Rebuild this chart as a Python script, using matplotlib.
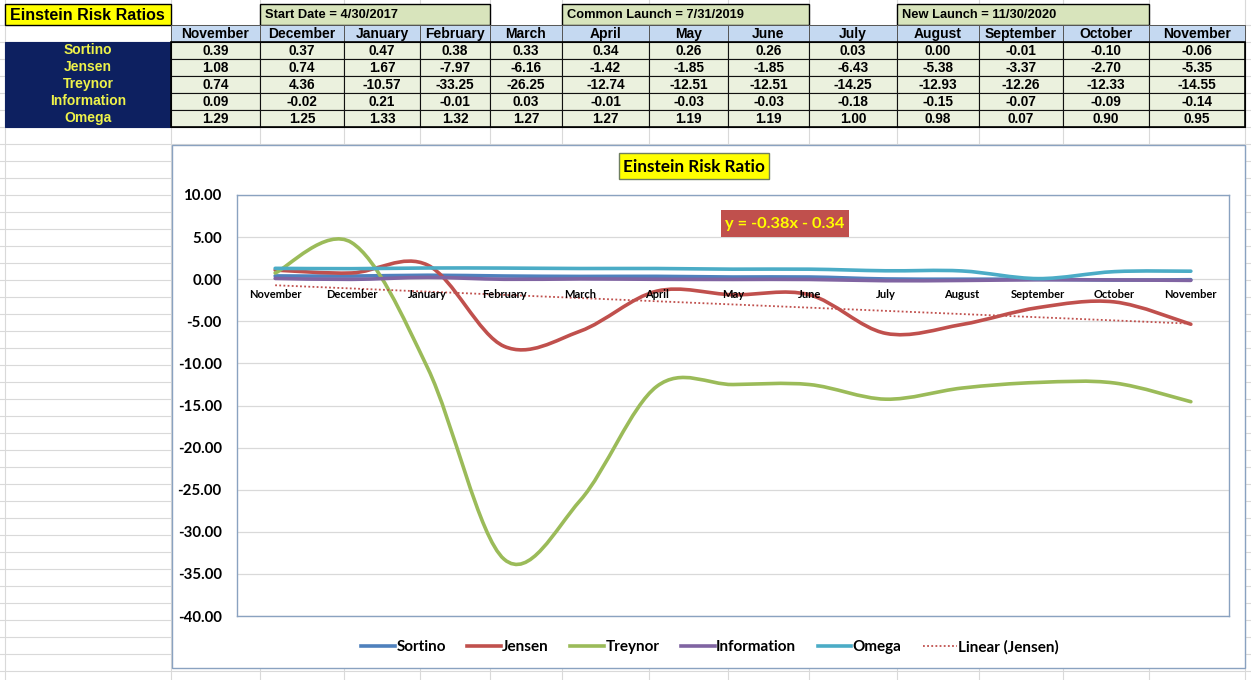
import numpy as np
import matplotlib
matplotlib.use("Agg")
import matplotlib.pyplot as plt
from matplotlib.patches import Rectangle, PathPatch
from matplotlib.path import Path
from matplotlib.lines import Line2D
import matplotlib.transforms as mtransforms

# ---------------- data ----------------
months = ['November', 'December', 'January', 'February', 'March', 'April', 'May',
          'June', 'July', 'August', 'September', 'October', 'November']
sortino = [0.39, 0.37, 0.47, 0.38, 0.33, 0.34, 0.26, 0.26, 0.03, 0.00, -0.01, -0.10, -0.06]
jensen = [1.08, 0.74, 1.67, -7.97, -6.16, -1.42, -1.85, -1.85, -6.43, -5.38, -3.37, -2.70, -5.35]
treynor = [0.74, 4.36, -10.57, -33.25, -26.25, -12.74, -12.51, -12.51, -14.25, -12.93, -12.26, -12.33, -14.55]
information = [0.09, -0.02, 0.21, -0.01, 0.03, -0.01, -0.03, -0.03, -0.18, -0.15, -0.07, -0.09, -0.14]
omega = [1.29, 1.25, 1.33, 1.32, 1.27, 1.27, 1.19, 1.19, 1.00, 0.98, 0.07, 0.90, 0.95]

series_names = ['Sortino', 'Jensen', 'Treynor', 'Information', 'Omega']
series_values = [sortino, jensen, treynor, information, omega]
series_colors = ['#4f81bd', '#c0504d', '#9bbb59', '#8064a2', '#4bacc6']

table_title = 'Einstein Risk Ratios'
chart_title = 'Einstein Risk Ratio'
banners = ['Start Date = 4/30/2017', 'Common Launch = 7/31/2019', 'New Launch = 11/30/2020']
yticks = [10, 5, 0, -5, -10, -15, -20, -25, -30, -35, -40]

# ---------------- figure ----------------
W, H = 1251, 680
fig = plt.figure(figsize=(W / 100, H / 100), dpi=100)
fig.patch.set_facecolor('white')

bg = fig.add_axes([0, 0, 1, 1])
bg.set_xlim(0, W)
bg.set_ylim(H, 0)
bg.axis('off')
bg.set_zorder(0)

ARIAL = ['Liberation Sans', 'DejaVu Sans']
CAL = ['Lato', 'DejaVu Sans']

cols = [5, 171, 260, 344, 420, 490, 562, 649, 728, 809, 897, 979, 1063, 1149, 1245]
grid_c = '#d9d9d9'

# spreadsheet gridlines
for x in cols:
    bg.plot([x, x], [0, H], color=grid_c, lw=0.8, zorder=0)
y = 126.5
while y < H:
    bg.plot([0, W], [y, y], color=grid_c, lw=0.8, zorder=0)
    y += 17
for yy in [25, 42, 59, 76, 93, 110]:
    bg.plot([0, W], [yy, yy], color=grid_c, lw=0.8, zorder=0)


def cell(x0, x1, y0, y1, fc, ec='#222222', lw=0.8, z=1):
    bg.add_patch(Rectangle((x0, y0), x1 - x0, y1 - y0, facecolor=fc, edgecolor=ec, lw=lw, zorder=z))


# title row
cell(5, 171, 4, 25, '#ffff00', '#000000', 1.0)
bg.text(10, 15, table_title, fontsize=11.5, fontweight='bold', family=ARIAL, va='center', ha='left', zorder=3)
banner_spans = [(260, 490), (562, 809), (897, 1149)]
for (x0, x1), txt in zip(banner_spans, banners):
    cell(x0, x1, 4, 25, '#d8e4bc', '#000000', 1.0)
    bg.text(x0 + 5, 15, txt, fontsize=9.3, fontweight='bold', family=ARIAL, va='center', ha='left', zorder=3)

# header row
row_h = (126.5 - 42) / 5
for i, m in enumerate(months):
    x0, x1 = cols[i + 1], cols[i + 2]
    cell(x0, x1, 25, 42, '#c5d9f1', '#555555', 0.7)
    bg.text((x0 + x1) / 2, 33.8, m, fontsize=10, fontweight='bold', family=ARIAL,
            ha='center', va='center', zorder=3)

# label column
cell(5, 171, 42, 126.5, '#0d2060', '#0d2060', 0.8)
for r, name in enumerate(series_names):
    yc = 42 + row_h * (r + 0.5)
    bg.text(88, yc, name, fontsize=10, fontweight='bold', family=ARIAL, color='#eef24a',
            ha='center', va='center', zorder=3)
    for i, v in enumerate(series_values[r]):
        x0, x1 = cols[i + 1], cols[i + 2]
        cell(x0, x1, 42 + row_h * r, 42 + row_h * (r + 1), '#ebf1de', '#111111', 0.8)
        bg.text((x0 + x1) / 2, yc + 0.5, f"{v:.2f}", fontsize=9.8, fontweight='bold', family=ARIAL,
                ha='center', va='center', zorder=3)
bg.add_patch(Rectangle((171, 42), 1245 - 171, 126.5 - 42, facecolor='none', edgecolor='#000000', lw=1.2, zorder=2))

# chart frame
bg.add_patch(Rectangle((172, 145), 1245 - 172, 668 - 145, facecolor='white', edgecolor='#8aa2c0', lw=1.0, zorder=4))
# chart title
bg.add_patch(Rectangle((619, 153), 150, 26, facecolor='#ffff00', edgecolor='#6f7f5f', lw=1.0, zorder=5))
bg.text(694, 166.5, chart_title, fontsize=12.3, fontweight='bold', family=CAL, ha='center', va='center', zorder=6)

# ---------------- plot ----------------
ax = fig.add_axes([237 / W, 1 - 616 / H, 992 / W, 421 / H])
ax.set_zorder(2)
ax.set_facecolor('white')
ax.set_xlim(-0.5, len(months) - 0.5)
ax.set_ylim(-40, 10)
ax.set_yticks(yticks)
ax.set_yticklabels([f"{t:.2f}" for t in yticks], fontsize=10.8, fontweight='bold', family=CAL)
ax.tick_params(axis='y', length=0, pad=11)
ax.set_xticks([])
ax.grid(axis='y', color='#d9d9d9', lw=0.9)
ax.set_axisbelow(True)
for s in ax.spines.values():
    s.set_color('#8aa2c0')
    s.set_linewidth(1.0)

xs = np.arange(len(months))


def smooth_path(x, yv):
    pts = np.column_stack([x, yv]).astype(float)
    n = len(pts)
    verts = [pts[0]]
    codes = [Path.MOVETO]
    for i in range(n - 1):
        p0 = pts[i - 1] if i > 0 else pts[i]
        p1 = pts[i]
        p2 = pts[i + 1]
        p3 = pts[i + 2] if i + 2 < n else pts[i + 1]
        c1 = p1 + (p2 - p0) / 6.0
        c2 = p2 - (p3 - p1) / 6.0
        verts += [c1, c2, p2]
        codes += [Path.CURVE4] * 3
    return Path(np.array(verts), codes)


handles = []
for name, vals, col in zip(series_names, series_values, series_colors):
    patch = PathPatch(smooth_path(xs, vals), facecolor='none', edgecolor=col, lw=2.6,
                      capstyle='round', joinstyle='round', zorder=3)
    ax.add_patch(patch)
    handles.append(Line2D([], [], color=col, lw=2.6, label=name))

# linear trendline of Jensen (Excel x = 1..n)
slope, intercept = np.polyfit(np.arange(1, len(jensen) + 1), jensen, 1)
trend = intercept + slope * np.arange(1, len(jensen) + 1)
ax.plot(xs, trend, color='#c0504d', lw=1.3, linestyle=(0, (1, 1.3)), zorder=4)
handles.append(Line2D([], [], color='#c0504d', lw=1.3, linestyle=(0, (1, 1.3)), label='Linear (Jensen)'))

# category labels at the zero line
offs = mtransforms.offset_copy(ax.transData, fig=fig, x=0, y=-7, units='points')
for i, m in enumerate(months):
    ax.text(i, 0, m, transform=offs, fontsize=8, fontweight='bold', family=CAL,
            ha='center', va='top', zorder=5)

# equation label
bg_eq = fig.add_axes([0, 0, 1, 1])
bg_eq.set_xlim(0, W)
bg_eq.set_ylim(H, 0)
bg_eq.axis('off')
bg_eq.set_zorder(3)
bg_eq.add_patch(Rectangle((721, 210), 128, 27, facecolor='#c0504d', edgecolor='none'))
sign = '-' if intercept < 0 else '+'
bg_eq.text(785, 224, f"y = {slope:.2f}x {sign} {abs(intercept):.2f}", fontsize=11.8, fontweight='bold',
           family=CAL, color='#ffff00', ha='center', va='center')

leg = fig.legend(handles=handles, loc='center', bbox_to_anchor=(710 / W, 1 - 647 / H), ncol=6,
                 frameon=False, handlelength=2.2, handletextpad=0.1, columnspacing=1.4,
                 prop={'family': CAL, 'weight': 'bold', 'size': 11})

fig.savefig('out.png', dpi=100)
